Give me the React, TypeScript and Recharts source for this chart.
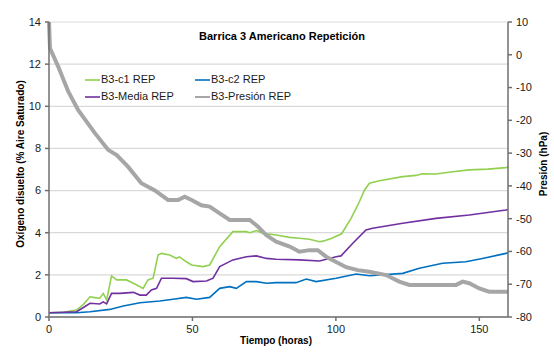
import React from "react";
import { LineChart, Line, XAxis, YAxis, CartesianGrid } from "recharts";

const FONT = "'Liberation Sans', Arial, Helvetica, sans-serif";

// Time in hours and readings for each series
const c1Hours = [0, 5, 9.6, 12, 14.3, 16, 17.7, 18.9, 20.1, 21.8, 23.6, 27, 29.4, 30.6, 32.8, 34.5, 36.3, 38, 39.2, 42.1, 44.4, 45.5, 47.9, 49.7, 53.7, 56, 59.5, 64.1, 68.8, 70, 72.3, 74.6, 79.2, 83.9, 87.3, 90.8, 94.3, 95.5, 98.4, 102, 105.3, 108.2, 110, 111.7, 115.2, 123.3, 128, 130, 134.9, 140, 146.5, 153, 159.3, 160];
const c1Values = [0.2, 0.22, 0.33, 0.6, 0.96, 0.92, 0.89, 1.12, 0.81, 1.95, 1.76, 1.76, 1.6, 1.52, 1.36, 1.76, 1.84, 2.94, 3.02, 2.94, 2.78, 2.85, 2.62, 2.47, 2.39, 2.47, 3.34, 4.05, 4.05, 4.0, 4.1, 3.97, 3.89, 3.78, 3.74, 3.69, 3.57, 3.6, 3.73, 3.95, 4.68, 5.47, 6.03, 6.35, 6.47, 6.66, 6.72, 6.8, 6.79, 6.88, 6.98, 7.02, 7.09, 7.12];

const c2Hours = [0, 9.6, 14.3, 21.2, 25.9, 31.7, 38.6, 43.2, 47.9, 51.4, 56, 59.5, 63, 65.3, 68.8, 72.3, 75.8, 79.2, 86.1, 89.7, 93.1, 100.1, 107.1, 111.7, 123.3, 129.1, 137.2, 145.3, 151.1, 159.3, 160];
const c2Values = [0.2, 0.2, 0.25, 0.36, 0.52, 0.68, 0.76, 0.84, 0.93, 0.84, 0.93, 1.36, 1.44, 1.36, 1.68, 1.68, 1.6, 1.63, 1.63, 1.8, 1.68, 1.84, 2.04, 1.96, 2.07, 2.31, 2.55, 2.62, 2.78, 3.02, 3.06];

const mediaHours = [0, 9.6, 12, 14.3, 17.7, 18.9, 20.1, 21.8, 24.7, 29.4, 31.7, 33.9, 35.7, 37.5, 39.2, 43.3, 47.9, 50.2, 54.9, 57.2, 59.5, 64.1, 68.8, 72.3, 75.8, 79.2, 87.3, 94.3, 100.1, 101.8, 105.9, 110.5, 112.8, 123.3, 134.9, 146.5, 159.3, 160];
const mediaValues = [0.2, 0.25, 0.45, 0.65, 0.62, 0.72, 0.62, 1.12, 1.12, 1.17, 1.04, 1.04, 1.28, 1.36, 1.84, 1.84, 1.82, 1.68, 1.71, 1.84, 2.39, 2.71, 2.86, 2.9, 2.78, 2.74, 2.71, 2.66, 2.86, 2.9, 3.5, 4.13, 4.21, 4.45, 4.68, 4.84, 5.08, 5.1];

const presionHours = [0, 0.35, 3.2, 6.7, 10.2, 16, 20.6, 23.6, 27.6, 32.2, 36.9, 41.5, 45, 47.3, 49.7, 53.1, 56, 59.5, 63, 70, 72.8, 75.7, 79.2, 83.9, 87.3, 90.8, 93.7, 96.6, 100.1, 103.6, 107.6, 111.7, 117.5, 122.1, 125.6, 141.9, 144.2, 146.5, 150, 153.4, 160];
const presionValues = [10, 2.0, -3.6, -11.2, -16.9, -23.9, -29.0, -30.6, -34.2, -39.2, -41.4, -44.3, -44.3, -43.3, -44.3, -45.9, -46.3, -48.4, -50.4, -50.4, -52.4, -55.0, -57.0, -58.5, -60.1, -59.6, -59.6, -61.6, -63.2, -64.8, -65.7, -66.2, -67.2, -69.2, -70.2, -70.2, -69.2, -69.7, -71.3, -72.3, -72.3];

const xTicks = [0, 50, 100, 150];
const oxygenTicks = [0, 2, 4, 6, 8, 10, 12, 14];
const pressureTicks = [-80, -70, -60, -50, -40, -30, -20, -10, 0, 10];

const toPoints = (hours: number[], values: number[]) =>
  hours.map((h, i) => ({ h, v: values[i] }));

const series = [
  { name: "B3-c1 REP", color: "#92d050", axis: "left", width: 1.6, data: toPoints(c1Hours, c1Values) },
  { name: "B3-c2 REP", color: "#0070c0", axis: "left", width: 1.6, data: toPoints(c2Hours, c2Values) },
  { name: "B3-Media REP", color: "#7030a0", axis: "left", width: 1.6, data: toPoints(mediaHours, mediaValues) },
  { name: "B3-Presión REP", color: "#a6a6a6", axis: "right", width: 4, data: toPoints(presionHours, presionValues) },
];

const W = 554;
const H = 352;
const axisColor = "#6f6f6f";
const tickStyle = { fontSize: 11, fill: "#1a1a1a", fontFamily: FONT };

export default function App() {
  return (
    <div style={{ position: "absolute", left: 0, top: 0, width: W, height: H, background: "#fff" }}>
      <LineChart width={W} height={H} margin={{ top: 22, right: 0, bottom: 0, left: 0 }}>
        <CartesianGrid yAxisId="left" vertical={false} stroke="#d9d9d9" strokeWidth={1.2} />
        <XAxis
          dataKey="h"
          type="number"
          domain={[0, 160]}
          ticks={xTicks}
          allowDuplicatedCategory={false}
          height={35}
          tickSize={4}
          tickMargin={4}
          stroke={axisColor}
          strokeWidth={1.5}
          tick={tickStyle}
        />
        <YAxis
          yAxisId="left"
          orientation="left"
          domain={[0, 14]}
          ticks={oxygenTicks}
          width={49}
          tickSize={4}
          tickMargin={4}
          stroke={axisColor}
          strokeWidth={1.5}
          tick={tickStyle}
          interval={0}
        />
        <YAxis
          yAxisId="right"
          orientation="right"
          domain={[-80, 10]}
          ticks={pressureTicks}
          width={46}
          tickSize={4}
          tickMargin={4}
          stroke={axisColor}
          strokeWidth={1.5}
          tick={tickStyle}
          interval={0}
        />
        {series.map((s) => (
          <Line
            key={s.name}
            data={s.data}
            dataKey="v"
            name={s.name}
            yAxisId={s.axis}
            type="linear"
            stroke={s.color}
            strokeWidth={s.width}
            dot={false}
            activeDot={false}
            isAnimationActive={false}
          />
        ))}
      </LineChart>
      <svg
        width={W}
        height={H}
        style={{ position: "absolute", left: 0, top: 0, pointerEvents: "none" }}
        fontFamily={FONT}
      >
        <text x={282} y={37} textAnchor="middle" dominantBaseline="middle" fontSize={11} fontWeight="bold" fill="#000">
          Barrica 3 Americano Repetición
        </text>
        <text
          x={21}
          y={164}
          textAnchor="middle"
          dominantBaseline="middle"
          fontSize={10}
          fontWeight="bold"
          fill="#000"
          transform="rotate(-90 21 164)"
        >
          Oxígeno disuelto (% Aire Saturado)
        </text>
        <text
          x={544}
          y={164}
          textAnchor="middle"
          dominantBaseline="middle"
          fontSize={10}
          fontWeight="bold"
          fill="#000"
          transform="rotate(-90 544 164)"
        >
          Presión (hPa)
        </text>
        <text x={276} y={341} textAnchor="middle" dominantBaseline="middle" fontSize={10} fontWeight="bold" fill="#000">
          Tiempo (horas)
        </text>
        {series.map((s, i) => {
          const col = i % 2;
          const row = Math.floor(i / 2);
          const x0 = 85 + col * 110;
          const y0 = 80 + row * 17;
          return (
            <g key={s.name}>
              <line x1={x0} x2={x0 + 15} y1={y0} y2={y0} stroke={s.color} strokeWidth={s.axis === "right" ? 2 : 1.6} />
              <text x={x0 + 16} y={y0} dominantBaseline="middle" fontSize={11} fill="#1a1a1a">
                {s.name}
              </text>
            </g>
          );
        })}
      </svg>
    </div>
  );
}
